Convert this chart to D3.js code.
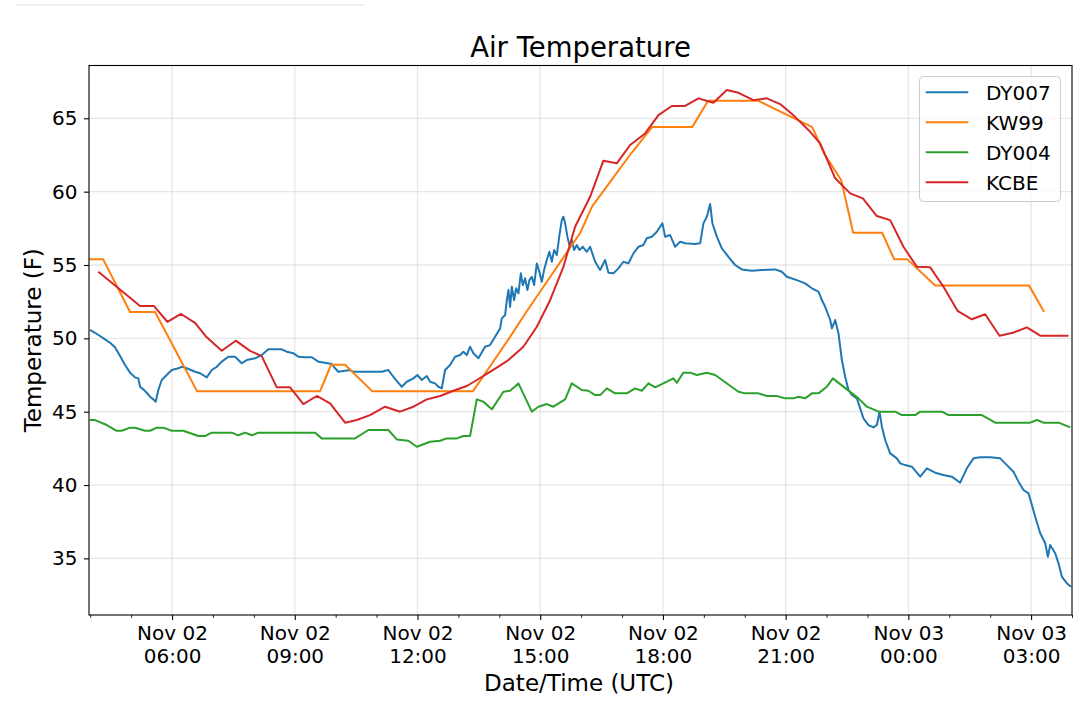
<!DOCTYPE html>
<html>
<head>
<meta charset="utf-8">
<script src="https://cdn.jsdelivr.net/npm/d3@7"></script>
<style>
  html, body { margin: 0; padding: 0; background: #ffffff; }
  svg { display: block; }
  text { font-family: "DejaVu Sans", sans-serif; fill: #000; }
</style>
</head>
<body>
<div id="chart"></div>
<script>
// ---------------- DATA (hours since Nov 02 00:00 UTC, temperature in F) ----------------
const seriesNames = ["DY007", "KW99", "DY004", "KCBE"];
const seriesColors = ["#1f77b4", "#ff7f0e", "#2ca02c", "#d62728"];

const dy007Hours = [3.995,4.117,4.240,4.362,4.484,4.606,4.729,4.851,4.973,5.095,
5.176,5.218,5.298,5.381,5.462,5.543,5.601,5.665,5.748,5.870,
5.993,6.154,6.237,6.359,6.562,6.685,6.848,6.971,7.093,7.215,
7.377,7.540,7.704,7.826,8.029,8.193,8.355,8.682,8.804,8.966,
9.088,9.252,9.416,9.577,9.741,9.905,9.985,10.066,10.352,10.433,
11.127,11.288,11.411,11.533,11.616,11.738,11.900,11.998,12.105,12.227,
12.308,12.430,12.511,12.594,12.675,12.797,12.919,13.042,13.122,13.205,
13.286,13.367,13.489,13.653,13.775,13.897,
14.020,14.061,14.142,14.184,14.223,14.264,14.306,14.362,14.411,14.467,
14.526,14.575,14.631,14.687,14.736,14.795,14.851,14.917,14.980,15.039,
15.095,15.161,15.225,15.284,15.340,15.406,15.470,15.528,15.567,15.609,
15.665,15.714,15.772,15.829,15.895,15.958,16.041,16.139,16.220,
16.343,
16.465,16.587,16.668,16.790,16.912,17.034,17.157,17.279,17.401,17.523,
17.606,17.729,17.851,17.988,18.054,18.176,18.298,18.421,18.543,18.787,
18.910,18.990,19.073,19.154,19.210,19.318,19.440,19.601,19.765,19.929,
20.173,20.418,20.743,20.907,21.029,21.274,21.477,21.641,21.802,21.885,
21.966,22.089,22.130,22.211,22.291,22.333,22.374,22.455,22.536,22.619,
22.741,22.822,22.902,23.025,23.147,23.230,23.294,23.353,23.433,23.555,
23.719,23.800,23.922,24.086,24.289,24.452,24.655,24.858,25.063,25.266,
25.430,25.592,25.755,25.999,26.245,26.408,26.570,26.692,26.814,26.937,
27.020,27.100,27.223,27.345,27.411,27.467,27.589,27.670,27.753,27.875,
27.973];
const dy007Temps = [50.57,50.38,50.16,49.93,49.70,49.39,48.79,48.18,47.66,47.34,
47.27,46.70,46.52,46.29,46.02,45.84,45.68,46.48,47.16,47.50,
47.84,47.96,48.06,47.96,47.72,47.62,47.34,47.84,48.06,48.41,
48.75,48.75,48.30,48.52,48.64,48.86,49.25,49.25,49.09,48.98,
48.75,48.71,48.71,48.41,48.34,48.25,47.96,47.72,47.84,47.72,
47.72,47.84,47.38,46.97,46.70,47.04,47.27,47.50,47.16,47.43,
47.04,46.93,46.70,46.59,47.84,48.18,48.75,48.86,49.09,48.86,
49.43,48.98,48.64,49.43,49.54,50.11,
50.68,51.36,51.59,52.61,53.29,52.15,53.52,52.61,53.41,53.07,
54.43,53.63,54.09,53.29,53.97,54.20,53.63,55.11,54.54,53.86,
54.66,55.34,55.90,55.22,56.02,55.68,57.04,58.06,58.29,57.84,
56.93,56.36,56.70,56.02,56.36,56.02,56.24,55.90,56.24,
55.22,
54.66,55.34,54.47,54.43,54.77,55.22,55.11,55.79,56.24,56.36,
56.82,56.93,57.27,57.84,56.93,57.04,56.24,56.59,56.48,56.43,
56.48,57.84,58.29,59.16,57.84,56.93,56.14,55.56,55.00,54.70,
54.61,54.66,54.70,54.54,54.20,53.97,53.75,53.41,53.18,52.61,
52.15,51.25,50.68,51.25,50.34,49.43,48.52,47.38,46.48,46.14,
45.91,45.23,44.55,44.09,43.93,44.09,45.00,43.98,43.07,42.16,
41.82,41.48,41.36,41.25,40.57,41.14,40.84,40.68,40.57,40.16,
41.14,41.82,41.89,41.89,41.82,41.36,40.91,40.23,39.66,39.43,
38.64,37.84,36.71,36.03,35.11,35.91,35.35,34.66,33.75,33.30,
33.07];

const kw99Hours = [3.971,4.313,4.643,4.973,5.584,5.927,6.269,6.611,9.619,9.888,
10.230,10.890,13.359,13.80,14.24,14.66,15.10,15.54,15.98,16.27,
16.745,17.22,17.736,18.714,19.105,20.327,21.65,21.94,22.357,22.505,
22.65,23.36,23.65,23.97,24.655,26.95,27.32];
const kw99Temps = [55.4,55.4,53.6,51.8,51.8,50.0,48.2,46.4,46.4,48.2,
48.2,46.4,46.4,48.2,50.0,51.8,53.6,55.4,57.2,59.0,
60.8,62.6,64.4,64.4,66.2,66.2,64.4,62.6,60.8,59.0,
57.2,57.2,55.4,55.4,53.6,53.6,51.8];

const dy004Hours = [3.995,4.117,4.403,4.648,4.770,4.973,5.095,5.340,5.462,5.626,
5.787,5.993,6.276,6.643,6.807,6.971,7.460,7.621,7.785,7.949,
8.110,9.496,9.660,10.474,10.799,11.288,11.494,11.778,11.983,12.308,
12.553,12.716,12.961,13.122,13.286,13.450,13.612,13.817,14.100,14.264,
14.467,14.795,14.956,15.161,15.323,15.609,15.772,16.017,16.179,16.342,
16.465,16.628,16.831,17.117,17.320,17.484,17.646,17.809,18.257,18.340,
18.501,18.665,18.829,19.073,19.277,19.846,20.010,20.335,20.540,20.785,
20.988,21.191,21.313,21.477,21.641,21.802,22.007,22.154,22.496,22.780,
22.985,23.269,23.678,23.841,24.166,24.289,24.820,24.981,25.798,26.123,
26.978,27.142,27.303,27.670,27.956];
const dy004Temps = [44.43,44.43,44.09,43.70,43.70,43.91,43.91,43.70,43.70,43.91,
43.91,43.70,43.70,43.34,43.34,43.57,43.57,43.39,43.57,43.39,
43.57,43.57,43.18,43.18,43.75,43.75,43.11,43.02,42.61,42.95,
43.02,43.18,43.18,43.34,43.34,45.84,45.68,45.16,46.36,46.43,
46.93,45.00,45.34,45.52,45.34,45.84,46.93,46.48,46.43,46.13,
46.13,46.59,46.25,46.25,46.59,46.43,46.93,46.66,47.27,46.97,
47.66,47.66,47.50,47.66,47.50,46.36,46.25,46.25,46.07,46.07,
45.91,45.91,46.02,45.91,46.25,46.25,46.70,47.27,46.52,45.91,
45.34,45.00,45.00,44.77,44.77,45.00,45.00,44.77,44.77,44.25,
44.25,44.43,44.25,44.25,43.93];

const kcbeHours = [4.198,5.218,5.560,5.885,6.220,6.562,6.848,7.215,7.557,7.907,
8.193,8.560,8.885,9.210,9.538,9.863,10.230,10.516,10.841,11.208,
11.575,11.900,12.228,12.553,12.878,13.205,13.450,13.775,14.223,14.589,
14.917,15.242,15.567,15.853,16.220,16.545,16.873,17.198,17.565,17.890,
18.218,18.543,18.868,19.235,19.562,19.846,20.213,20.540,20.866,21.233,
21.599,21.844,22.211,22.577,22.887,23.229,23.555,23.880,24.208,24.533,
24.858,25.201,25.553,25.878,26.227,26.555,26.897,27.223,27.915];
const kcbeTemps = [54.54,52.20,52.20,51.13,51.66,51.06,50.07,49.15,49.84,49.15,
48.79,46.66,46.66,45.52,46.07,45.56,44.25,44.43,44.77,45.34,
45.00,45.34,45.84,46.07,46.43,46.75,47.16,47.72,48.52,49.43,
50.79,52.60,54.87,57.61,59.65,62.11,61.93,63.18,63.97,65.22,
65.84,65.84,66.36,66.06,66.93,66.74,66.24,66.36,65.97,65.10,
64.08,63.29,60.91,59.88,59.54,58.34,58.06,56.24,54.88,54.84,
53.52,51.88,51.30,51.64,50.18,50.38,50.75,50.18,50.18];

const yTickValues = [35, 40, 45, 50, 55, 60, 65];
const xMajorTickHours = [6, 9, 12, 15, 18, 21, 24, 27];
const xDomainHours = [3.97, 28.0];
const yDomain = [31.14, 68.6];

const titleText = "Air Temperature";
const xLabelText = "Date/Time (UTC)";
const yLabelText = "Temperature (F)";

// ---------------- CHART ----------------
const W = 1080, H = 705;
const plot = { left: 89, top: 65.5, right: 1072, bottom: 615 };
const base = Date.UTC(2019, 10, 2, 0, 0, 0);
const toDate = h => new Date(base + h * 3600e3);

const x = d3.scaleUtc().domain(xDomainHours.map(toDate)).range([plot.left, plot.right]);
const y = d3.scaleLinear().domain(yDomain).range([plot.bottom, plot.top]);

const svg = d3.select("#chart").append("svg").attr("width", W).attr("height", H);

// faint artifact line at top-left
svg.append("line").attr("x1", 15).attr("x2", 365).attr("y1", 5).attr("y2", 5)
  .attr("stroke", "#f0f0f0").attr("stroke-width", 2);

svg.append("defs").append("clipPath").attr("id", "clip")
  .append("rect").attr("x", plot.left).attr("y", plot.top)
  .attr("width", plot.right - plot.left).attr("height", plot.bottom - plot.top);

// grid
const grid = svg.append("g");
grid.selectAll("line.gx").data(xMajorTickHours).join("line")
  .attr("x1", d => x(toDate(d))).attr("x2", d => x(toDate(d)))
  .attr("y1", plot.top).attr("y2", plot.bottom)
  .attr("stroke", "#b0b0b0").attr("stroke-opacity", 0.3).attr("stroke-width", 1.3);
grid.selectAll("line.gy").data(yTickValues).join("line")
  .attr("x1", plot.left).attr("x2", plot.right)
  .attr("y1", d => y(d)).attr("y2", d => y(d))
  .attr("stroke", "#b0b0b0").attr("stroke-opacity", 0.3).attr("stroke-width", 1.3);

// lines
const seriesData = [
  d3.zip(dy007Hours, dy007Temps),
  d3.zip(kw99Hours, kw99Temps),
  d3.zip(dy004Hours, dy004Temps),
  d3.zip(kcbeHours, kcbeTemps)
];
const line = d3.line().x(d => x(toDate(d[0]))).y(d => y(d[1]));
const lines = svg.append("g").attr("clip-path", "url(#clip)");
seriesData.forEach((s, i) => {
  lines.append("path").datum(s).attr("d", line)
    .attr("fill", "none").attr("stroke", seriesColors[i])
    .attr("stroke-width", 2).attr("stroke-linejoin", "round").attr("stroke-linecap", "butt");
});

// axes
const fmtDay = d3.utcFormat("%b %d");
const fmtTime = d3.utcFormat("%H:%M");

const yAxis = d3.axisLeft(y).tickValues(yTickValues).tickSize(5).tickPadding(6.5).tickFormat(d3.format("d"));
const gy = svg.append("g").attr("transform", `translate(${plot.left},0)`).call(yAxis);
gy.select(".domain").remove();
gy.selectAll("text").style("font-size", "20px").style("font-family", "DejaVu Sans");
gy.selectAll(".tick line").attr("stroke", "#000").attr("stroke-width", 1.1);

// minor x ticks hourly
const minorHours = d3.range(4, 28.01, 1).filter(h => !xMajorTickHours.includes(h));
const xMinor = d3.axisBottom(x).tickValues(minorHours.map(toDate)).tickSize(2.8).tickFormat("");
const gxm = svg.append("g").attr("transform", `translate(0,${plot.bottom})`).call(xMinor);
gxm.select(".domain").remove();
gxm.selectAll(".tick line").attr("stroke", "#000").attr("stroke-width", 0.9);

const xAxis = d3.axisBottom(x).tickValues(xMajorTickHours.map(toDate)).tickSize(5).tickFormat("");
const gx = svg.append("g").attr("transform", `translate(0,${plot.bottom})`).call(xAxis);
gx.select(".domain").remove();
gx.selectAll(".tick line").attr("stroke", "#000").attr("stroke-width", 1.1);
gx.selectAll(".tick").each(function(d) {
  const t = d3.select(this).append("text").attr("text-anchor", "middle")
    .style("font-size", "20px").style("font-family", "DejaVu Sans").attr("fill", "#000");
  t.append("tspan").attr("x", 0).attr("y", 25).text(fmtDay(d));
  t.append("tspan").attr("x", 0).attr("y", 48.3).text(fmtTime(d));
});

// frame (spines)
svg.append("rect").attr("x", plot.left).attr("y", plot.top)
  .attr("width", plot.right - plot.left).attr("height", plot.bottom - plot.top)
  .attr("fill", "none").attr("stroke", "#000").attr("stroke-width", 1.1);

// title & labels
svg.append("text").attr("x", (plot.left + plot.right) / 2).attr("y", 57)
  .attr("text-anchor", "middle").style("font-size", "27.5px").text(titleText);
svg.append("text").attr("x", 579).attr("y", 691)
  .attr("text-anchor", "middle").style("font-size", "23px").text(xLabelText);
svg.append("text").attr("transform", `translate(41,${(plot.top + plot.bottom) / 2}) rotate(-90)`)
  .attr("text-anchor", "middle").style("font-size", "23px").text(yLabelText);

// legend
const lg = svg.append("g");
lg.append("rect").attr("x", 919.5).attr("y", 76.5).attr("width", 141).attr("height", 125)
  .attr("rx", 4).attr("fill", "#fff").attr("fill-opacity", 0.8)
  .attr("stroke", "#cccccc").attr("stroke-width", 1);
seriesNames.forEach((n, i) => {
  const ry = 92.3 + i * 30;
  lg.append("line").attr("x1", 925.7).attr("x2", 968.3).attr("y1", ry).attr("y2", ry)
    .attr("stroke", seriesColors[i]).attr("stroke-width", 2);
  lg.append("text").attr("x", 986).attr("y", ry + 7.5).style("font-size", "20px").text(n);
});
</script>
</body>
</html>
